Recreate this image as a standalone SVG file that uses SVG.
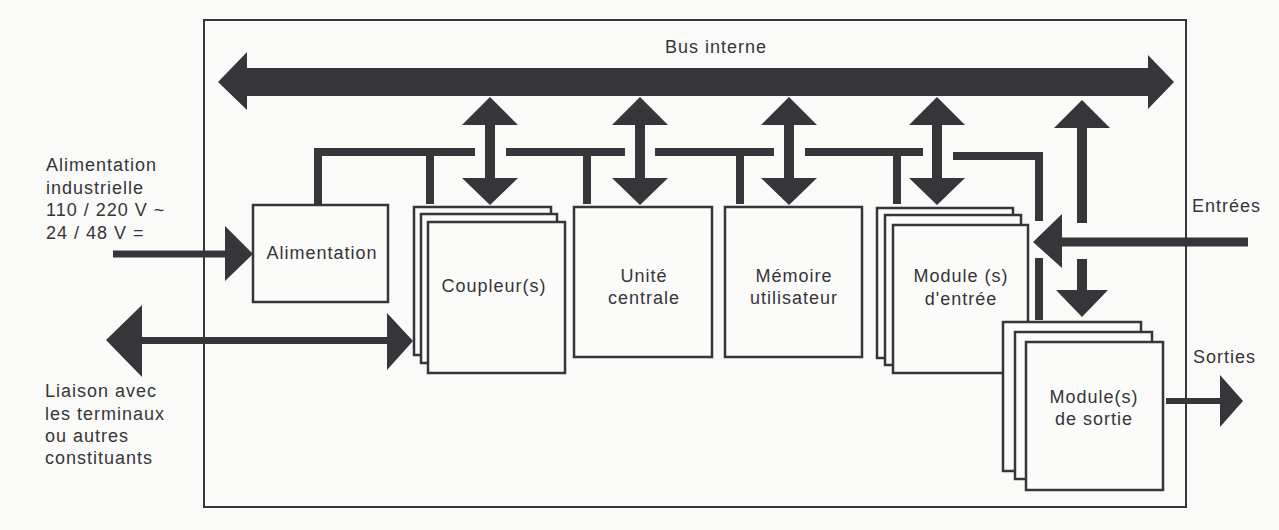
<svg xmlns="http://www.w3.org/2000/svg" width="1279" height="530" viewBox="0 0 1279 530">
  <style>
    .ink { fill: #35353a; }
    .box { fill: #fbfbf9; stroke: #35353a; stroke-width: 2.5; }
    .frame { fill: none; stroke: #35353a; stroke-width: 2; }
    .wire { fill: none; stroke: #35353a; stroke-width: 8; stroke-linejoin: miter; stroke-linecap: butt; }
    .lbl { font-family: "Liberation Sans", Arial, sans-serif; font-size: 18px; letter-spacing: 1px; fill: #35353a; }
    .mid { text-anchor: middle; }
  </style>
  <defs>
    <!-- double-headed vertical arrow between the bus and a module -->
    <polygon id="vArrow" points="0,97 28,125 5,125 5,178 28,178 0,205 -28,178 -5,178 -5,125 -28,125"/>
  </defs>

  <rect width="1279" height="530" fill="#fafaf8"/>

  <!-- automate enclosure -->
  <rect class="frame" x="204" y="20" width="982" height="487"/>

  <!-- internal bus -->
  <g id="bus">
    <polygon class="ink" points="218,82 247,52 247,68 1148,68 1148,55 1174,82 1148,109 1148,96 247,96 247,110"/>
    <text class="lbl" x="665" y="53">Bus interne</text>
  </g>

  <!-- connectors: bus links, power distribution, I/O -->
  <g id="connectors">
    <use href="#vArrow" x="490" class="ink"/>
    <use href="#vArrow" x="640" class="ink"/>
    <use href="#vArrow" x="789" class="ink"/>
    <use href="#vArrow" x="937" class="ink"/>

    <!-- power distribution line -->
    <path class="wire" d="M318,204 V152 H475"/>
    <path class="wire" d="M506,152 H625"/>
    <path class="wire" d="M655,152 H774"/>
    <path class="wire" d="M805,152 H923"/>
    <path class="wire" d="M430,152 V204"/>
    <path class="wire" d="M587,152 V204"/>
    <path class="wire" d="M740,152 V204"/>
    <path class="wire" d="M897,152 V204"/>
    <path class="wire" d="M953,156 H1039 V221"/>
    <path class="wire" d="M1039,258 V320"/>

    <!-- output modules to bus / bus to output modules -->
    <polygon class="ink" points="1082,100 1110,128 1087,128 1087,223 1077,223 1077,128 1054,128"/>
    <polygon class="ink" points="1077,259 1087,259 1087,290 1108,290 1082,317 1056,290 1077,290"/>

    <!-- inputs -->
    <polygon class="ink" points="1248,237.5 1248,246.5 1062,246.5 1062,268 1033,242 1062,214 1062,237.5"/>
    <!-- outputs -->
    <polygon class="ink" points="1166,398 1220,398 1220,375 1243,401 1220,427 1220,404 1166,404"/>
    <!-- power supply input -->
    <polygon class="ink" points="113,250.5 225,250.5 225,226 253,254 225,281 225,257.5 113,257.5"/>
    <!-- link with terminals -->
    <polygon class="ink" points="106,340 142,305 142,337 387,337 387,313 413,341 387,370 387,344 142,344 142,377"/>
  </g>

  <!-- left labels -->
  <g id="label-power">
    <text class="lbl" x="46" y="171">Alimentation</text>
    <text class="lbl" x="46" y="194">industrielle</text>
    <text class="lbl" x="46" y="216">110 / 220 V ~</text>
    <text class="lbl" x="46" y="239">24 / 48 V =</text>
  </g>
  <g id="label-link">
    <text class="lbl" x="45" y="397">Liaison avec</text>
    <text class="lbl" x="45" y="420">les terminaux</text>
    <text class="lbl" x="45" y="442">ou autres</text>
    <text class="lbl" x="45" y="464">constituants</text>
  </g>

  <g id="alimentation">
    <rect class="box" x="253" y="205" width="135" height="97"/>
    <text class="lbl mid" x="322" y="259">Alimentation</text>
  </g>

  <g id="coupleurs">
    <rect class="box" x="414" y="207" width="137" height="148"/>
    <rect class="box" x="421" y="214" width="136" height="149"/>
    <rect class="box" x="428" y="222" width="137" height="151"/>
    <text class="lbl mid" x="494" y="292">Coupleur(s)</text>
  </g>

  <g id="unite-centrale">
    <rect class="box" x="574" y="207" width="138" height="150"/>
    <text class="lbl mid" x="644" y="282">Unité</text>
    <text class="lbl mid" x="644" y="304">centrale</text>
  </g>

  <g id="memoire">
    <rect class="box" x="725" y="207" width="137" height="150"/>
    <text class="lbl mid" x="794" y="282">Mémoire</text>
    <text class="lbl mid" x="794" y="304">utilisateur</text>
  </g>

  <g id="modules-entree">
    <rect class="box" x="877" y="208" width="136" height="150"/>
    <rect class="box" x="885" y="215" width="136" height="150"/>
    <rect class="box" x="893" y="225" width="135" height="148"/>
    <text class="lbl mid" x="961" y="282">Module (s)</text>
    <text class="lbl mid" x="961" y="305">d'entrée</text>
  </g>

  <g id="modules-sortie">
    <rect class="box" x="1003" y="322" width="138" height="149"/>
    <rect class="box" x="1015" y="332" width="137" height="147"/>
    <rect class="box" x="1026" y="342" width="137" height="148"/>
    <text class="lbl mid" x="1094" y="403">Module(s)</text>
    <text class="lbl mid" x="1094" y="425">de sortie</text>
  </g>

  <!-- right labels -->
  <text class="lbl" x="1192" y="212">Entrées</text>
  <text class="lbl" x="1193" y="363">Sorties</text>
</svg>
